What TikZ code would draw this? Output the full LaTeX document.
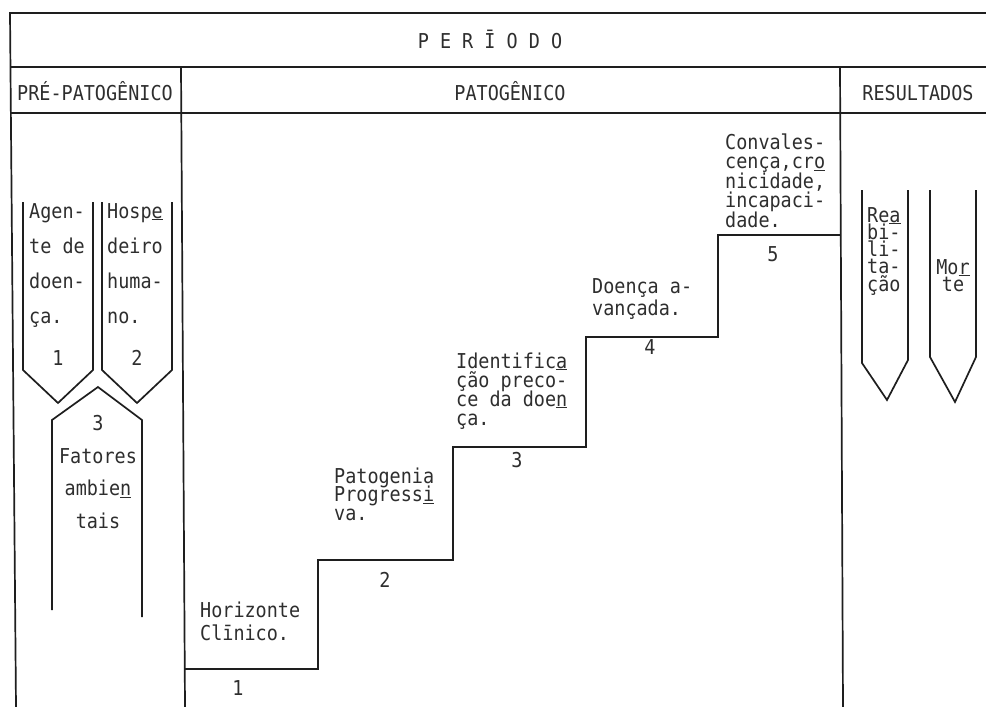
\documentclass[tikz,border=0pt]{standalone}
\usepackage{fontspec}
\newfontfamily\tw{DejaVu Sans Mono}[FakeStretch=0.9]
\newcommand\tblock[2]{\vtop{\baselineskip=#1\relax\lineskiplimit=-\maxdimen\relax\halign{##\hfil\cr#2\crcr}}}
\newcommand\cblock[2]{\vtop{\baselineskip=#1\relax\lineskiplimit=-\maxdimen\relax\halign{\hfil##\hfil\cr#2\crcr}}}
\newcommand\us[1]{\underline{#1}}
\definecolor{ink}{HTML}{1E1E1E}
\definecolor{tink}{HTML}{2E2E2E}
\tikzset{
  txt/.style={font=\tw\fontsize{20.5}{21}\selectfont, inner sep=0pt, text=tink},
  ln/.style={line width=1.7pt, draw=ink, line join=miter},
}
\begin{document}
\begin{tikzpicture}[x=1pt,y=-1pt]
\useasboundingbox[fill=white] (0,0) rectangle (986,707);
% table frame
\draw[ln] (986,13) -- (10,13) -- (16,707);
\draw[ln] (10,67) -- (986,67);
\draw[ln] (10,113) -- (986,113);
\draw[ln] (181,67) -- (185,707);
\draw[ln] (840,67) -- (843,707);
% headers
\node[txt, anchor=base] (periodo) at (490,48) {P E R Ī O D O};
\node[txt, anchor=base] (prepat) at (95,100) {PRÉ-PATOGÊNICO};
\node[txt, anchor=base] (pat) at (510,100) {PATOGÊNICO};
\node[txt, anchor=base] (res) at (918,100) {RESULTADOS};
% pre-pathogenic shapes
\draw[ln] (23,202) -- (23,370) -- (58,403) -- (93,370) -- (93,202);
\draw[ln] (102,202) -- (102,370) -- (137,403) -- (172,370) -- (172,202);
\draw[ln] (52,610) -- (52,420) -- (98,387) -- (142,420) -- (142,617);
\node[txt, anchor=base west] (agente) at (29,218) {\tblock{35pt}{Agen-\cr te de\cr doen-\cr ça.}};
\node[txt, anchor=base west] (hosp) at (107,218) {\tblock{35pt}{Hosp\us{e}\cr deiro\cr huma-\cr no.}};
\node[txt] (n1a) at (58,358) {1};
\node[txt] (n2a) at (137,358) {2};
\node[txt] (n3a) at (98,423) {3};
\node[txt, anchor=base] (fat) at (98,463) {\cblock{32.5pt}{Fatores\cr ambie\us{n}\cr tais}};
% staircase
\draw[ln] (185,669) -- (318,669) -- (318,560) -- (453,560) -- (453,447)
  -- (586,447) -- (586,337) -- (718,337) -- (718,235) -- (841,235);
\node[txt, anchor=base west] (s1) at (200,617) {\tblock{23pt}{Horizonte\cr Clīnico.}};
\node[txt, anchor=base west] (s2) at (334,483) {\tblock{18.5pt}{Patogenia\cr Progress\us{i}\cr va.}};
\node[txt, anchor=base west] (s3) at (456,368) {\tblock{19pt}{Identific\us{a}\cr ção preco-\cr ce da doe\us{n}\cr ça.}};
\node[txt, anchor=base west] (s4) at (592,293) {\tblock{22pt}{Doença a-\cr vançada.}};
\node[txt, anchor=base west] (s5) at (725,149) {\tblock{19.5pt}{Convales-\cr cença,cr\us{o}\cr nicidade,\cr incapaci-\cr dade.}};
\node[txt] (n1) at (238,688) {1};
\node[txt] (n2) at (385,580) {2};
\node[txt] (n3) at (517,460) {3};
\node[txt] (n4) at (650,347) {4};
\node[txt] (n5) at (773,254) {5};
% results
\draw[ln] (862,190) -- (862,363) -- (887,400) -- (908,360) -- (908,190);
\draw[ln] (930,190) -- (930,357) -- (955,402) -- (976,357) -- (976,190);
\node[txt, anchor=base west] (reab) at (867,222) {\tblock{17.3pt}{Re\us{a}\cr bi-\cr li-\cr ta-\cr ção}};
\node[txt, anchor=base] (morte) at (953,274) {\cblock{17.3pt}{Mo\us{r}\cr te}};
\end{tikzpicture}
\end{document}
